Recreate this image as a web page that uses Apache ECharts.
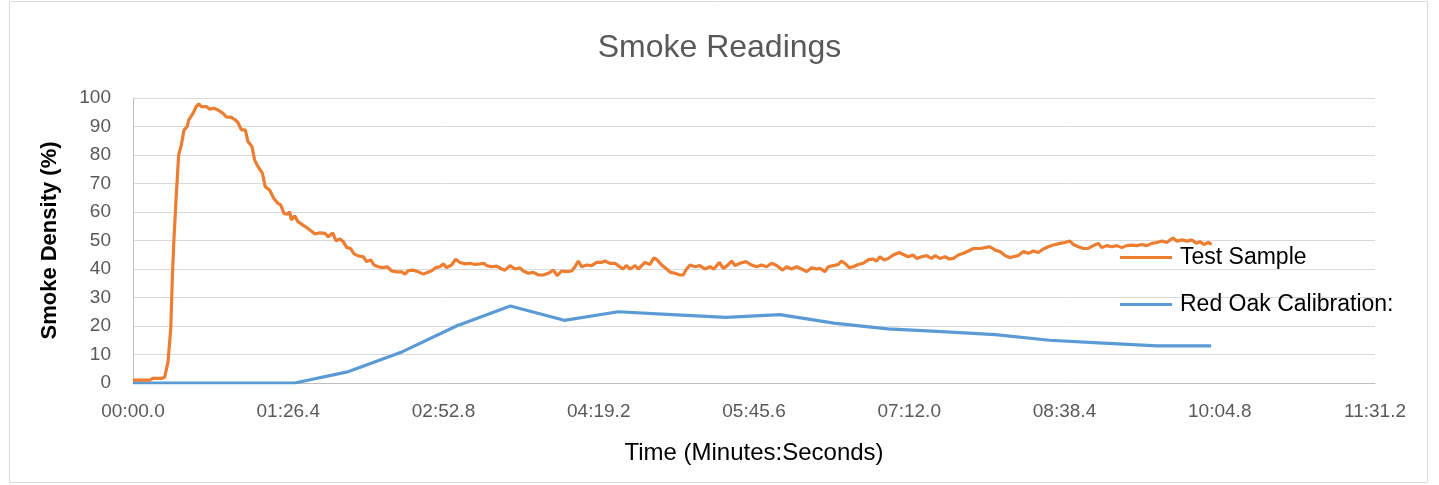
<!DOCTYPE html>
<html>
<head>
<meta charset="utf-8">
<script src="https://cdn.jsdelivr.net/npm/echarts@6/dist/echarts.min.js"></script>
<style>
html,body{margin:0;padding:0;background:#fff;}
#chart{width:1439px;height:485px;}
</style>
</head>
<body>
<div id="chart"></div>
<script>
// ---- Data (time in seconds, density in %) ----
const sampleTime = [
  0,9.3,11,15.8,17.6,19.5,21,21.9,22.8,24.1,25.4,26.9,28.4,30.2,31,33.4,35.2,36.6,38,40.8,42.7,45,47.3,50.1,51.9,54.7,56.9,58.4,60.3,62.5,64,66.2,67.7,69.6,72,73.6,76,78.3,80.7,82.2,84,85.9,87.2,88.1,90,91.8,94.6,96.8,
  98.5,101.3,104,106.8,108.7,111.1,113,115.2,117,118.9,121.1,123,125.4,128.2,130,132.3,134.1,136.5,139,141.5,144,146.7,149.5,151.4,153.2,156,158.8,161.6,163.8,166.2,168.6,170.8,172.7,174.5,177.3,179.6,182,184.8,187.5,190.3,193.1,
  195.3,196.8,199.6,202.4,205.2,207,209.8,212.6,215.4,217.2,220,222.8,225.6,228.3,231.1,233.9,236.1,238.5,241.3,244.1,246,247.8,249.7,252.5,255.3,258,260.8,262.6,265.4,268.2,270.1,272.5,274.7,276.6,279.4,281.2,
  284.9,287.7,289.9,291.7,294.2,297,299.2,301.6,304.4,306.2,308.1,310,312.7,315.5,318.3,321.1,323.3,326.3,328.5,330.7,333.2,335,337.8,341.1,344.3,347.1,349.8,352.6,355.4,358.2,361.5,363.7,366.5,369.3,372.1,374.9,377.7,380.5,
  382.3,385.1,386.9,389.7,392.5,394.3,396.2,398.6,400.8,403.6,406.4,409.1,411.9,413.8,415.7,417.9,420.3,423.1,426.4,428.7,431.4,434.2,436.1,438.9,441.6,444.4,446.3,449.1,451.9,454.3,456.5,459.3,462.1,464.9,467.7,
  471.3,474.1,476.9,479.7,482.5,485.3,488,489.9,492.7,495.5,498.3,501,503.8,506.6,509.4,512.2,515.9,518.6,521.4,523.3,526.1,528.9,531.6,534.4,537.2,539.1,541.9,544.7,547.5,550.3,553,555.8,558.6,561.4,564.2,567,569.8,572.6,575.3,578.7,580.9,583.7,586.5,589.3,591.7,593.8,596,598.4,600.3
];
const sampleDensity = [
  1,1,1.6,1.6,2,7.5,19,37,50.7,66,80,83.5,88.8,90,92.3,94.6,97,97.9,97,97,96.1,96.4,95.8,94.6,93.4,93.2,92.3,91.4,88.8,88.8,84.7,83,78.2,75.9,73.6,68.9,67.7,64.8,63,62.5,59.5,59.2,60.1,57.2,58.7,56.6,55.4,54.5,
  53.7,52.3,52.7,52.5,51.3,52.7,49.9,50.5,49.6,47.6,47.2,45.3,44.6,44.3,42.6,43.2,41.4,40.8,40.5,40.8,39.3,39,39,38.2,39.4,39.6,39,38.2,38.8,39.4,40.5,40.8,41.8,40.5,41.4,43.4,42.3,41.8,42,41.6,41.8,
  42,41.2,40.8,41,40,39.6,41.2,40,40.4,39.3,38.5,38.8,37.9,37.9,38.5,39.6,37.7,39.3,39.1,39.3,40.8,42.8,40.8,41.4,41.2,42.3,42.3,42.8,42,42,41.2,40,41.2,40,41.2,40,
  42.3,41.6,43.9,43.2,41.4,40,38.8,38.5,37.9,37.9,40,41.4,40.8,41.2,40,40.8,40,42.3,40.2,41.2,42.8,41.2,42,42.6,41.4,40.8,41.4,40.8,42,41.2,39.6,40.8,40,40.8,40,39.1,40.4,40,
  40.2,39.1,40.8,41.2,41.6,42.8,42,40.5,40.8,41.6,42,43.2,43.5,42.8,44.3,43.2,43.7,44.9,45.8,45.1,44.3,44.9,43.7,44.3,44.7,43.7,44.7,43.7,44.3,43.5,43.7,44.9,45.5,46.3,47.2,
  47.2,47.5,47.8,46.7,46.1,44.7,44,44.3,44.7,46.1,45.5,46.3,45.8,47,47.8,48.4,49,49.3,49.8,48.6,47.8,47.2,47.2,48.2,49,47.5,48.2,47.8,48.2,47.5,48.2,48.4,48.2,48.6,48.2,49,49.3,49.8,49.3,50.9,49.8,50.2,49.8,50.2,49,49.6,48.6,49.3,48.6
];
const calTime = [0,30,60,90,120,150,180,210,240,270,300,330,360,390,420,450,480,510,540,570,600];
const calDensity = [0,0,0,0,4,11,20,27,22,25,24,23,24,21,19,18,17,15,14,13,13];
const seriesNames = ['Test Sample', 'Red Oak Calibration:'];
const chartTitle = 'Smoke Readings';
const xAxisTitle = 'Time (Minutes:Seconds)';
const yAxisTitle = 'Smoke Density (%)';

function fmtTime(v) {
  const s = Math.round(v * 10) / 10;
  const m = Math.floor(s / 60 + 1e-9);
  const sec = (s - m * 60).toFixed(1).padStart(4, '0');
  return String(m).padStart(2, '0') + ':' + sec;
}

const sampleData = sampleTime.map((t, i) => [t, sampleDensity[i]]);
const calData = calTime.map((t, i) => [t, calDensity[i]]);

const chart = echarts.init(document.getElementById('chart'), null, {renderer: 'canvas'});
chart.setOption({
  animation: false,
  backgroundColor: '#ffffff',
  title: {
    text: chartTitle,
    left: 'center',
    top: 27,
    textStyle: {fontFamily: 'Liberation Sans', fontSize: 32, fontWeight: 'normal', color: '#595959'}
  },
  graphic: [{
    type: 'rect',
    shape: {x: 9.5, y: 1.5, width: 1418, height: 481},
    style: {fill: 'none', stroke: '#d9d9d9', lineWidth: 1},
    silent: true
  }],
  legend: {
    orient: 'vertical',
    left: 1120,
    top: 246,
    padding: 0,
    itemWidth: 52,
    itemHeight: 3,
    itemGap: 24,
    icon: 'rect',
    data: seriesNames,
    textStyle: {fontFamily: 'Liberation Sans', fontSize: 23, color: '#000000', padding: [0, 0, 0, 3]}
  },
  grid: {left: 133, right: 64, top: 98, bottom: 102, containLabel: false},
  xAxis: {
    type: 'value',
    min: 0,
    max: 691.2,
    interval: 86.4,
    name: xAxisTitle,
    nameLocation: 'middle',
    nameGap: 58,
    nameTextStyle: {fontFamily: 'Liberation Sans', fontSize: 24, color: '#000000'},
    axisLine: {show: true, lineStyle: {color: '#bfbfbf', width: 1}},
    axisTick: {show: false},
    splitLine: {show: false},
    axisLabel: {
      showMaxLabel: true,
      showMinLabel: true,
      margin: 19,
      fontFamily: 'Liberation Sans',
      fontSize: 19,
      color: '#595959',
      formatter: fmtTime
    }
  },
  yAxis: {
    type: 'value',
    min: 0,
    max: 100,
    interval: 10,
    name: yAxisTitle,
    nameLocation: 'middle',
    nameGap: 72,
    nameTextStyle: {fontFamily: 'Liberation Sans', fontSize: 22, fontWeight: 'bold', color: '#000000'},
    axisLine: {show: true, lineStyle: {color: '#bfbfbf', width: 1}},
    axisTick: {show: false},
    splitLine: {show: true, lineStyle: {color: '#d9d9d9', width: 1}},
    axisLabel: {
      margin: 22,
      fontFamily: 'Liberation Sans',
      fontSize: 19,
      color: '#595959'
    }
  },
  series: [
    {
      name: seriesNames[0],
      type: 'line',
      data: sampleData,
      showSymbol: false,
      symbol: 'none',
      lineStyle: {color: '#ED7D31', width: 3.2},
      itemStyle: {color: '#ED7D31'},
      z: 3
    },
    {
      name: seriesNames[1],
      type: 'line',
      data: calData,
      showSymbol: false,
      symbol: 'none',
      lineStyle: {color: '#5B9BD5', width: 3.2},
      itemStyle: {color: '#5B9BD5'},
      z: 2
    }
  ]
});
</script>
</body>
</html>
